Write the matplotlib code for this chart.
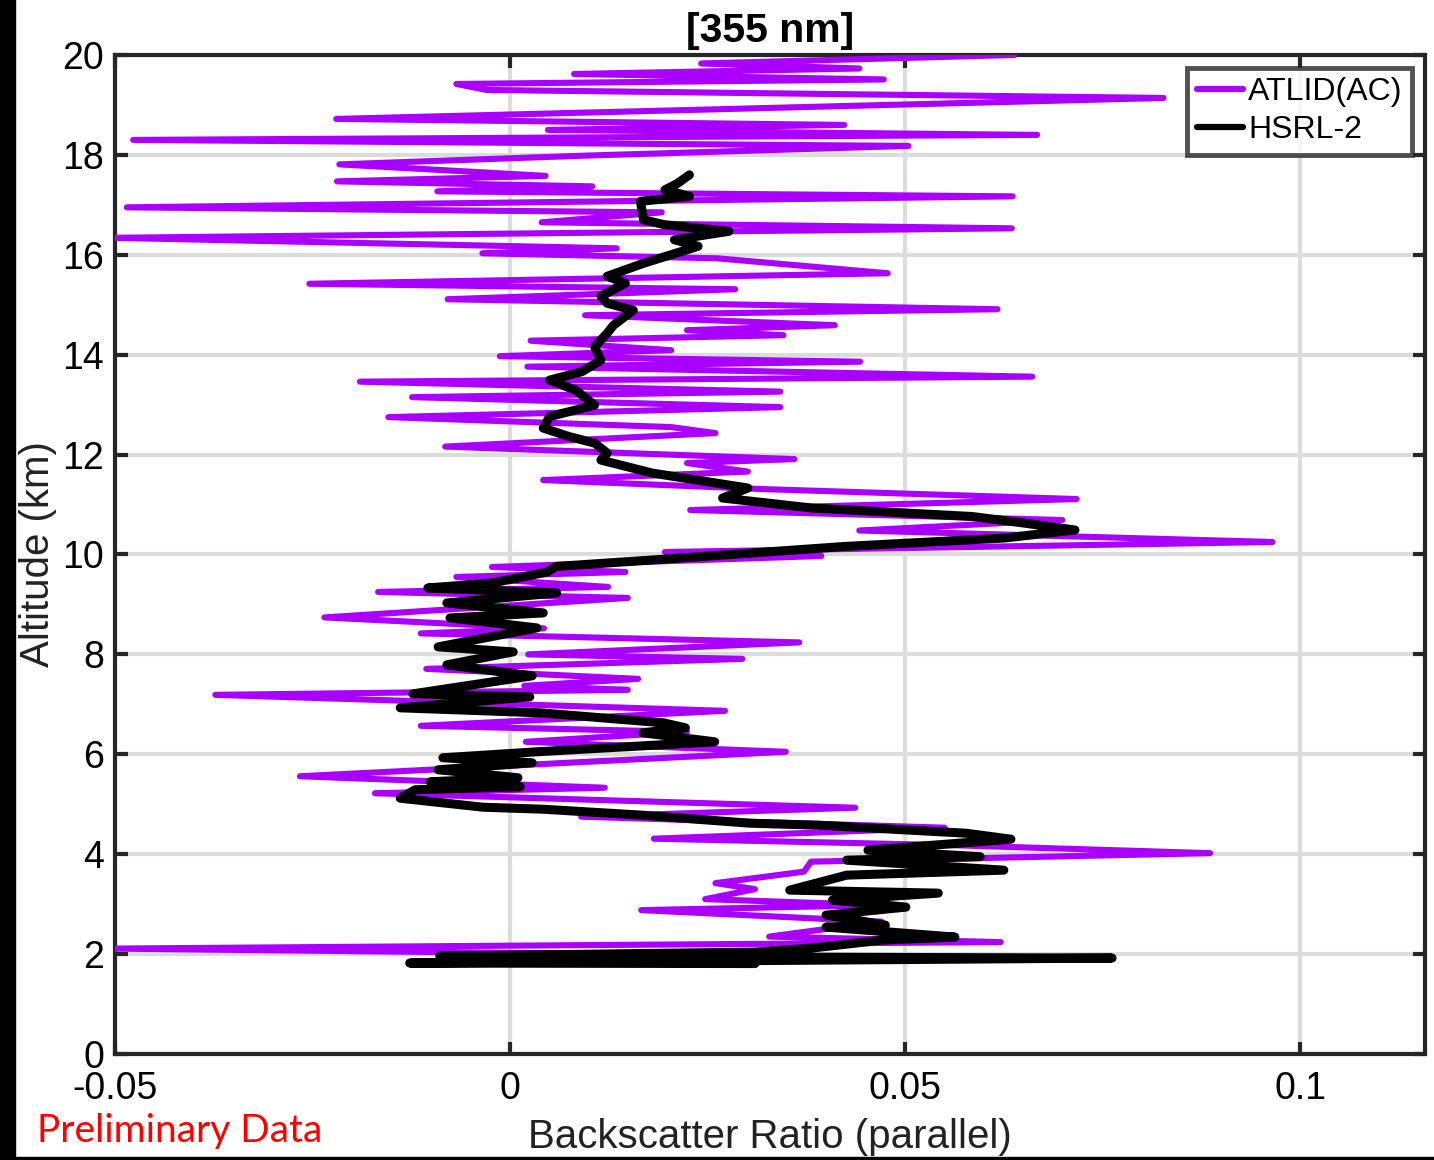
import numpy as np
import matplotlib
matplotlib.use("Agg")
import matplotlib.pyplot as plt
from matplotlib.patches import Rectangle

plt.rcParams['font.family'] = ['Liberation Sans', 'DejaVu Sans']

# ATLID(AC) 355 nm profile: altitude (km), backscatter ratio (parallel)
atlid_alt = [20.00, 19.83, 19.73, 19.62, 19.51, 19.42, 19.30, 19.14, 18.72, 18.60,
             18.50, 18.40, 18.30, 18.18, 17.98, 17.81, 17.58, 17.47, 17.37, 17.27,
             17.17, 16.95, 16.85, 16.65, 16.53, 16.34, 16.13, 16.03, 15.93, 15.63,
             15.42, 15.31, 15.11, 14.91, 14.79, 14.59, 14.49, 14.39, 14.28, 14.09,
             13.97, 13.86, 13.76, 13.56, 13.46, 13.26, 13.15, 12.95, 12.75, 12.55,
             12.43, 12.16, 11.91, 11.83, 11.66, 11.49, 11.31, 11.11, 10.89, 10.69,
             10.48, 10.25, 10.05, 9.97, 9.75, 9.65, 9.55, 9.35, 9.25, 9.13,
             8.74, 8.52, 8.42, 8.24, 8.00, 7.91, 7.71, 7.51, 7.37, 7.29,
             7.19, 6.87, 6.57, 6.45, 6.25, 6.05, 5.56, 5.33, 5.22, 4.93,
             4.75, 4.53, 4.31, 4.18, 4.02, 3.85, 3.65, 3.42, 3.30, 3.10,
             2.98, 2.88, 2.65, 2.35, 2.24, 2.11, 2.00]
atlid_bsr = [0.0638, 0.0242, 0.0442, 0.0081, 0.0473, -0.0068, -0.0030, 0.0827, -0.0220, 0.0423,
             0.0048, 0.0667, -0.0477, 0.0504, 0.0085, -0.0216, 0.0045, -0.0219, 0.0104, -0.0092,
             0.0636, -0.0485, 0.0192, 0.0040, 0.0635, -0.0505, 0.0135, -0.0035, 0.0262, 0.0478,
             -0.0254, 0.0285, -0.0079, 0.0617, 0.0095, 0.0411, 0.0224, 0.0346, 0.0026, 0.0204,
             -0.0013, 0.0443, 0.0022, 0.0661, -0.0190, 0.0342, -0.0124, 0.0342, -0.0154, 0.0204,
             0.0260, -0.0082, 0.0360, 0.0224, 0.0301, 0.0042, 0.0318, 0.0717, 0.0228, 0.0699,
             0.0442, 0.0965, 0.0196, 0.0394, -0.0023, 0.0146, -0.0068, 0.0124, -0.0167, 0.0149,
             -0.0235, 0.0043, -0.0113, 0.0366, 0.0023, 0.0294, -0.0106, 0.0162, 0.0018, 0.0149,
             -0.0373, 0.0272, -0.0113, 0.0224, 0.0020, 0.0349, -0.0266, 0.0120, -0.0171, 0.0437,
             0.0090, 0.0550, 0.0182, 0.0560, 0.0886, 0.0381, 0.0372, 0.0260, 0.0310, 0.0247,
             0.0470, 0.0166, 0.0470, 0.0328, 0.0621, -0.0505, 0.0150]

# HSRL-2 profile
hsrl_alt = [17.60, 17.43, 17.30, 17.17, 17.07, 16.70, 16.60, 16.47, 16.30, 16.17,
            15.83, 15.57, 15.43, 15.17, 15.03, 14.89, 14.59, 14.43, 14.16, 13.89,
            13.66, 13.49, 13.29, 12.99, 12.76, 12.53, 12.36, 12.23, 12.03, 11.89,
            11.63, 11.33, 11.13, 10.93, 10.76, 10.63, 10.49, 10.33, 10.16, 9.89,
            9.76, 9.65, 9.43, 9.33, 9.23, 9.03, 8.83, 8.73, 8.53, 8.15,
            8.05, 7.79, 7.57, 7.21, 7.15, 6.93, 6.83, 6.63, 6.53, 6.43,
            6.25, 6.05, 5.93, 5.83, 5.69, 5.53, 5.45, 5.35, 5.29, 5.12,
            4.94, 4.90, 4.78, 4.62, 4.58, 4.42, 4.30, 4.08, 3.95, 3.88,
            3.68, 3.58, 3.28, 3.22, 3.08, 2.94, 2.78, 2.58, 2.54, 2.34,
            2.28, 2.12, 2.04, 1.96, 1.92, 1.82, 1.81]
hsrl_bsr = [0.0227, 0.0212, 0.0196, 0.0227, 0.0165, 0.0169, 0.0196, 0.0277, 0.0208, 0.0238,
            0.0169, 0.0123, 0.0146, 0.0115, 0.0123, 0.0156, 0.0131, 0.0123, 0.0107, 0.0115,
            0.0091, 0.0050, 0.0083, 0.0107, 0.0050, 0.0042, 0.0075, 0.0107, 0.0123, 0.0115,
            0.0180, 0.0301, 0.0269, 0.0382, 0.0585, 0.0650, 0.0715, 0.0626, 0.0423, 0.0180,
            0.0058, 0.0047, -0.0022, -0.0104, 0.0059, -0.0080, 0.0042, -0.0076, 0.0034, -0.0091,
            0.0004, -0.0080, 0.0028, -0.0123, 0.0025, -0.0139, 0.0038, 0.0194, 0.0222, 0.0168,
            0.0259, 0.0034, -0.0085, 0.0028, -0.0091, 0.0010, -0.0101, 0.0013, -0.0120, -0.0139,
            -0.0034, 0.0042, 0.0168, 0.0304, 0.0391, 0.0577, 0.0634, 0.0453, 0.0595, 0.0426,
            0.0625, 0.0426, 0.0354, 0.0542, 0.0408, 0.0501, 0.0400, 0.0475, 0.0400, 0.0563,
            0.0471, 0.0382, 0.0310, -0.0089, 0.0762, -0.0127, 0.0310]

xticks = [-0.05, 0, 0.05, 0.1]
xticklabels = ['-0.05', '0', '0.05', '0.1']
yticks = list(range(0, 21, 2))

purple = '#AA00FF'
frame = '#262626'

fig = plt.figure(figsize=(14.34, 11.6), dpi=100)
ax = fig.add_axes([0.0802, 0.0914, 0.9135, 0.8612])

ax.plot(atlid_bsr, atlid_alt, color=purple, lw=4.4, solid_joinstyle='round',
        solid_capstyle='round', label='ATLID(AC)', zorder=3)
ax.plot(hsrl_bsr, hsrl_alt, color='black', lw=6.5, solid_joinstyle='round',
        solid_capstyle='round', label='HSRL-2', zorder=4)

ax.set_xlim(-0.05, 0.1158)
ax.set_ylim(0, 20)
ax.set_xticks(xticks)
ax.set_xticklabels(xticklabels)
ax.set_yticks(yticks)
ax.grid(True, color='#DCDCDC', lw=3, zorder=0)
ax.set_axisbelow(True)

for s in ax.spines.values():
    s.set_color(frame)
    s.set_linewidth(3)
ax.tick_params(direction='in', length=9, width=3, color=frame, labelsize=27,
               top=True, right=True, pad=12)
ax.tick_params(axis='y', pad=8)

ax.set_title('[355 nm]', fontsize=29.5, fontweight='bold', pad=9)
ax.set_xlabel('Backscatter Ratio (parallel)', fontsize=29, labelpad=8, color='#222222')
ax.set_ylabel('Altitude (km)', fontsize=29, labelpad=4, color='#222222')

leg = ax.legend(loc='upper right', fontsize=23, frameon=True, fancybox=False,
                handlelength=1.45, handletextpad=0.15, borderpad=0.3,
                borderaxespad=0.4, labelspacing=0.25)
leg.get_frame().set_edgecolor(frame)
leg.get_frame().set_linewidth(3.5)
for line in leg.get_lines():
    line.set_linewidth(4.5)

# black band on the left edge and along the bottom
fig.patches.append(Rectangle((0, 0), 0.0105, 1, transform=fig.transFigure,
                             color='black', zorder=10))
fig.patches.append(Rectangle((0, 0), 1, 0.0026, transform=fig.transFigure,
                             color='black', zorder=10))

fig.text(0.026, 0.0155, 'Preliminary Data', color='red', fontsize=28,
         va='baseline', family=['Lato', 'DejaVu Sans'])

fig.savefig('out.png', dpi=100)
